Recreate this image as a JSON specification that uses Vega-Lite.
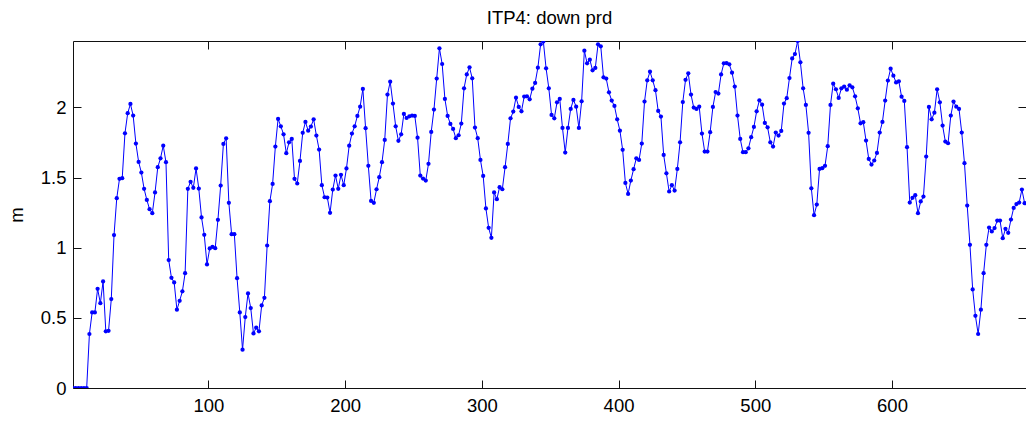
{
  "$schema": "https://vega.github.io/schema/vega-lite/v6.json",
  "width": 953,
  "height": 347,
  "autosize": {"type": "none"},
  "padding": {"left": 73, "top": 41, "right": 0, "bottom": 37},
  "background": "white",
  "title": {"text": "ITP4: down prd", "fontSize": 18.5, "fontWeight": "normal", "font": "Liberation Sans", "color": "black", "offset": 13},
  "config": {
    "view": {"stroke": "#111111", "strokeWidth": 1},
    "axis": {
      "domain": false, "grid": false, "tickColor": "#111111", "tickSize": -8, "tickWidth": 1,
      "labelFont": "Liberation Sans", "labelFontSize": 18.5, "labelColor": "black",
      "titleFont": "Liberation Sans", "titleFontSize": 18.5, "titleFontWeight": "normal", "titleColor": "black"
    }
  },
  "data": {"values": [
    {"x":1,"m":0},{"x":3,"m":0},{"x":5,"m":0},{"x":7,"m":0},{"x":9,"m":0},{"x":11,"m":0},
    {"x":13,"m":0.385},{"x":15,"m":0.539},{"x":17,"m":0.539},{"x":19,"m":0.707},{"x":21,"m":0.605},{"x":23,"m":0.76},
    {"x":25,"m":0.404},{"x":27,"m":0.408},{"x":29,"m":0.634},{"x":31,"m":1.09},{"x":33,"m":1.353},{"x":35,"m":1.491},
    {"x":37,"m":1.496},{"x":39,"m":1.816},{"x":41,"m":1.959},{"x":43,"m":2.025},{"x":45,"m":1.942},{"x":47,"m":1.743},
    {"x":49,"m":1.612},{"x":51,"m":1.536},{"x":53,"m":1.42},{"x":55,"m":1.341},{"x":57,"m":1.275},{"x":59,"m":1.246},
    {"x":61,"m":1.394},{"x":63,"m":1.574},{"x":65,"m":1.638},{"x":67,"m":1.728},{"x":69,"m":1.61},{"x":71,"m":0.912},
    {"x":73,"m":0.786},{"x":75,"m":0.753},{"x":77,"m":0.558},{"x":79,"m":0.622},{"x":81,"m":0.689},{"x":83,"m":0.819},
    {"x":85,"m":1.42},{"x":87,"m":1.47},{"x":89,"m":1.427},{"x":91,"m":1.565},{"x":93,"m":1.422},{"x":95,"m":1.216},
    {"x":97,"m":1.092},{"x":99,"m":0.881},{"x":101,"m":0.995},{"x":103,"m":1.007},{"x":105,"m":0.997},{"x":107,"m":1.199},
    {"x":109,"m":1.443},{"x":111,"m":1.74},{"x":113,"m":1.78},{"x":115,"m":1.32},{"x":117,"m":1.097},{"x":119,"m":1.097},
    {"x":121,"m":0.783},{"x":123,"m":0.539},{"x":125,"m":0.273},{"x":127,"m":0.506},{"x":129,"m":0.674},{"x":131,"m":0.57},
    {"x":133,"m":0.389},{"x":135,"m":0.43},{"x":137,"m":0.404},{"x":139,"m":0.589},{"x":141,"m":0.643},{"x":143,"m":1.016},
    {"x":145,"m":1.332},{"x":147,"m":1.455},{"x":149,"m":1.721},{"x":151,"m":1.918},{"x":153,"m":1.866},{"x":155,"m":1.809},
    {"x":157,"m":1.674},{"x":159,"m":1.752},{"x":161,"m":1.776},{"x":163,"m":1.491},{"x":165,"m":1.458},{"x":167,"m":1.619},
    {"x":169,"m":1.819},{"x":171,"m":1.897},{"x":173,"m":1.835},{"x":175,"m":1.864},{"x":177,"m":1.916},{"x":179,"m":1.8},
    {"x":181,"m":1.7},{"x":183,"m":1.446},{"x":185,"m":1.36},{"x":187,"m":1.358},{"x":189,"m":1.249},{"x":191,"m":1.415},
    {"x":193,"m":1.515},{"x":195,"m":1.42},{"x":197,"m":1.52},{"x":199,"m":1.446},{"x":201,"m":1.565},{"x":203,"m":1.728},
    {"x":205,"m":1.814},{"x":207,"m":1.866},{"x":209,"m":1.94},{"x":211,"m":2.006},{"x":213,"m":2.132},{"x":215,"m":1.852},
    {"x":217,"m":1.584},{"x":219,"m":1.334},{"x":221,"m":1.32},{"x":223,"m":1.417},{"x":225,"m":1.503},{"x":227,"m":1.61},
    {"x":229,"m":1.769},{"x":231,"m":2.092},{"x":233,"m":2.184},{"x":235,"m":2.028},{"x":237,"m":1.866},{"x":239,"m":1.762},
    {"x":241,"m":1.809},{"x":243,"m":1.954},{"x":245,"m":1.925},{"x":247,"m":1.937},{"x":249,"m":1.942},{"x":251,"m":1.94},
    {"x":253,"m":1.785},{"x":255,"m":1.515},{"x":257,"m":1.493},{"x":259,"m":1.479},{"x":261,"m":1.598},{"x":263,"m":1.826},
    {"x":265,"m":1.985},{"x":267,"m":2.206},{"x":269,"m":2.422},{"x":271,"m":2.31},{"x":273,"m":2.061},{"x":275,"m":1.94},
    {"x":277,"m":1.883},{"x":279,"m":1.847},{"x":281,"m":1.781},{"x":283,"m":1.802},{"x":285,"m":1.885},{"x":287,"m":2.137},
    {"x":289,"m":2.236},{"x":291,"m":2.286},{"x":293,"m":2.208},{"x":295,"m":1.857},{"x":297,"m":1.781},{"x":299,"m":1.626},
    {"x":301,"m":1.512},{"x":303,"m":1.28},{"x":305,"m":1.142},{"x":307,"m":1.071},{"x":309,"m":1.394},{"x":311,"m":1.346},
    {"x":313,"m":1.432},{"x":315,"m":1.417},{"x":317,"m":1.574},{"x":319,"m":1.74},{"x":321,"m":1.923},{"x":323,"m":1.971},
    {"x":325,"m":2.07},{"x":327,"m":2.004},{"x":329,"m":1.973},{"x":331,"m":2.078},{"x":333,"m":2.08},{"x":335,"m":2.058},
    {"x":337,"m":2.134},{"x":339,"m":2.175},{"x":341,"m":2.284},{"x":343,"m":2.45},{"x":345,"m":2.47},{"x":347,"m":2.279},
    {"x":349,"m":2.137},{"x":351,"m":1.947},{"x":353,"m":1.923},{"x":355,"m":2.037},{"x":357,"m":2.061},{"x":359,"m":1.854},
    {"x":361,"m":1.679},{"x":363,"m":1.854},{"x":365,"m":1.99},{"x":367,"m":2.054},{"x":369,"m":2.006},{"x":371,"m":1.854},
    {"x":373,"m":2.044},{"x":375,"m":2.405},{"x":377,"m":2.315},{"x":379,"m":2.341},{"x":381,"m":2.265},{"x":383,"m":2.282},
    {"x":385,"m":2.45},{"x":387,"m":2.436},{"x":389,"m":2.215},{"x":391,"m":2.206},{"x":393,"m":2.108},{"x":395,"m":2.049},
    {"x":397,"m":2.011},{"x":399,"m":1.916},{"x":401,"m":1.835},{"x":403,"m":1.698},{"x":405,"m":1.462},{"x":407,"m":1.384},
    {"x":409,"m":1.479},{"x":411,"m":1.56},{"x":413,"m":1.638},{"x":415,"m":1.626},{"x":417,"m":1.743},{"x":419,"m":2.042},
    {"x":421,"m":2.194},{"x":423,"m":2.255},{"x":425,"m":2.194},{"x":427,"m":2.123},{"x":429,"m":1.975},{"x":431,"m":1.935},
    {"x":433,"m":1.662},{"x":435,"m":1.531},{"x":437,"m":1.401},{"x":439,"m":1.446},{"x":441,"m":1.408},{"x":443,"m":1.562},
    {"x":445,"m":1.752},{"x":447,"m":2.039},{"x":449,"m":2.197},{"x":451,"m":2.244},{"x":453,"m":2.092},{"x":455,"m":1.999},
    {"x":457,"m":1.99},{"x":459,"m":2.006},{"x":461,"m":1.814},{"x":463,"m":1.686},{"x":465,"m":1.686},{"x":467,"m":1.824},
    {"x":469,"m":2.004},{"x":471,"m":2.11},{"x":473,"m":2.099},{"x":475,"m":2.236},{"x":477,"m":2.315},{"x":479,"m":2.317},
    {"x":481,"m":2.308},{"x":483,"m":2.248},{"x":485,"m":2.149},{"x":487,"m":1.942},{"x":489,"m":1.776},{"x":491,"m":1.681},
    {"x":493,"m":1.681},{"x":495,"m":1.709},{"x":497,"m":1.788},{"x":499,"m":1.861},{"x":501,"m":1.973},{"x":503,"m":2.051},
    {"x":505,"m":2.02},{"x":507,"m":1.89},{"x":509,"m":1.859},{"x":511,"m":1.752},{"x":513,"m":1.721},{"x":515,"m":1.821},
    {"x":517,"m":1.8},{"x":519,"m":1.833},{"x":521,"m":2.028},{"x":523,"m":2.066},{"x":525,"m":2.21},{"x":527,"m":2.35},
    {"x":529,"m":2.381},{"x":531,"m":2.474},{"x":533,"m":2.322},{"x":535,"m":2.137},{"x":537,"m":2.018},{"x":539,"m":1.819},
    {"x":541,"m":1.424},{"x":543,"m":1.232},{"x":545,"m":1.308},{"x":547,"m":1.562},{"x":549,"m":1.567},{"x":551,"m":1.584},
    {"x":553,"m":1.724},{"x":555,"m":2.018},{"x":557,"m":2.17},{"x":559,"m":2.13},{"x":561,"m":2.068},{"x":563,"m":2.137},
    {"x":565,"m":2.149},{"x":567,"m":2.127},{"x":569,"m":2.158},{"x":571,"m":2.144},{"x":573,"m":2.08},{"x":575,"m":1.994},
    {"x":577,"m":1.887},{"x":579,"m":1.895},{"x":581,"m":1.764},{"x":583,"m":1.633},{"x":585,"m":1.593},{"x":587,"m":1.622},
    {"x":589,"m":1.676},{"x":591,"m":1.821},{"x":593,"m":1.897},{"x":595,"m":2.049},{"x":597,"m":2.192},{"x":599,"m":2.277},
    {"x":601,"m":2.227},{"x":603,"m":2.179},{"x":605,"m":2.187},{"x":607,"m":2.077},{"x":609,"m":2.047},{"x":611,"m":1.717},
    {"x":613,"m":1.322},{"x":615,"m":1.356},{"x":617,"m":1.375},{"x":619,"m":1.246},{"x":621,"m":1.33},{"x":623,"m":1.365},
    {"x":625,"m":1.65},{"x":627,"m":2.004},{"x":629,"m":1.916},{"x":631,"m":1.963},{"x":633,"m":2.13},{"x":635,"m":2.037},
    {"x":637,"m":1.871},{"x":639,"m":1.757},{"x":641,"m":1.745},{"x":643,"m":1.942},{"x":645,"m":2.042},{"x":647,"m":2.006},
    {"x":649,"m":1.99},{"x":651,"m":1.821},{"x":653,"m":1.603},{"x":655,"m":1.301},{"x":657,"m":1.021},{"x":659,"m":0.703},
    {"x":661,"m":0.515},{"x":663,"m":0.385},{"x":665,"m":0.558},{"x":667,"m":0.819},{"x":669,"m":1.021},{"x":671,"m":1.144},
    {"x":673,"m":1.116},{"x":675,"m":1.14},{"x":677,"m":1.194},{"x":679,"m":1.194},{"x":681,"m":1.068},{"x":683,"m":1.135},
    {"x":685,"m":1.106},{"x":687,"m":1.201},{"x":689,"m":1.284},{"x":691,"m":1.311},{"x":693,"m":1.322},{"x":695,"m":1.415},
    {"x":697,"m":1.318}
  ]},
  "layer": [
    {
      "mark": {"type": "line", "color": "#0000ff", "strokeWidth": 1, "clip": true,
               "point": {"filled": true, "size": 18, "color": "#0000ff"}},
      "encoding": {
        "x": {"field": "x", "type": "quantitative",
              "scale": {"domain": [1, 698], "nice": false, "zero": false},
              "axis": {"values": [100, 200, 300, 400, 500, 600], "title": null, "labelPadding": 16, "orient": "bottom"}},
        "y": {"field": "m", "type": "quantitative",
              "scale": {"domain": [0, 2.474], "nice": false, "zero": false},
              "axis": {"values": [0, 0.5, 1, 1.5, 2], "format": "~g", "title": "m", "labelPadding": 15, "titlePadding": 14, "orient": "left"}}
      }
    },
    {
      "mark": {"type": "line", "opacity": 0},
      "encoding": {
        "x": {"field": "x", "type": "quantitative",
              "scale": {"domain": [1, 698], "nice": false, "zero": false},
              "axis": {"values": [100, 200, 300, 400, 500, 600], "title": null, "labels": false, "orient": "top"}},
        "y": {"field": "m", "type": "quantitative",
              "scale": {"domain": [0, 2.474], "nice": false, "zero": false},
              "axis": {"values": [0, 0.5, 1, 1.5, 2], "title": null, "labels": false, "orient": "right"}}
      }
    }
  ],
  "resolve": {"axis": {"x": "independent", "y": "independent"}}
}
